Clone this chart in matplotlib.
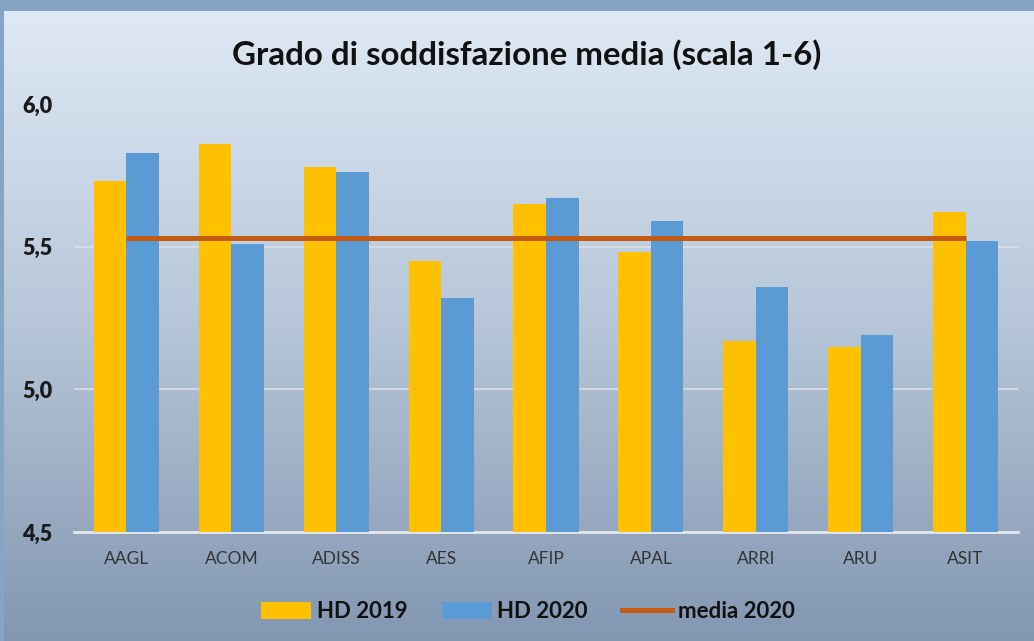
import numpy as np
import matplotlib
matplotlib.use("Agg")
import matplotlib.pyplot as plt
from matplotlib.patches import Patch
from matplotlib.lines import Line2D
from matplotlib.colors import LinearSegmentedColormap

categories = ["AAGL", "ACOM", "ADISS", "AES", "AFIP", "APAL", "ARRI", "ARU", "ASIT"]
hd2019 = [5.73, 5.86, 5.78, 5.45, 5.65, 5.48, 5.17, 5.15, 5.62]
hd2020 = [5.83, 5.51, 5.76, 5.32, 5.67, 5.59, 5.36, 5.19, 5.52]
media2020 = [5.53, 5.53, 5.53, 5.53, 5.53, 5.53, 5.53, 5.53, 5.53]
yticks = [4.5, 5.0, 5.5, 6.0]
ytick_labels = ["4,5", "5,0", "5,5", "6,0"]
title = "Grado di soddisfazione media (scala 1-6)"

FONT = ["Lato", "DejaVu Sans"]
plt.rcParams["font.family"] = FONT

W, H = 1034, 641
fig = plt.figure(figsize=(W / 100, H / 100), dpi=100)
fig.patch.set_facecolor("#84a5c4")

# gradient background panel
bg = fig.add_axes([4 / W, 0, (W - 4) / W, (H - 11) / H], zorder=-10)
cmap = LinearSegmentedColormap.from_list("bg", ["#dfe9f5", "#b6c6d8", "#8397b2"])
grad = np.linspace(0, 1, 256).reshape(-1, 1)
bg.imshow(grad, aspect="auto", cmap=cmap, extent=[0, 1, 0, 1], origin="upper")
bg.set_axis_off()

ax = fig.add_axes([74 / W, (H - 532) / H, (1018 - 74) / W, (532 - 104) / H])
ax.patch.set_alpha(0)

x = np.arange(len(categories))
bw = 0.31
ax.bar(x - bw / 2, hd2019, width=bw, color="#FFC000", zorder=3, label="HD 2019")
ax.bar(x + bw / 2, hd2020, width=bw, color="#5B9BD5", zorder=3, label="HD 2020")
ax.plot(x, media2020, color="#C55A11", lw=3.6, zorder=4, solid_capstyle="butt", label="media 2020")

ax.set_xlim(-0.5, len(categories) - 0.5)
ax.set_ylim(4.5, 6.0)
ax.set_yticks(yticks)
ax.set_yticklabels(ytick_labels, fontsize=15.5, fontweight="heavy", color="#1a1a1a")
ax.set_xticks(x)
ax.set_xticklabels(categories, fontsize=12.5, color="#333333")
ax.tick_params(axis="both", length=0)
ax.tick_params(axis="y", pad=15.5)
ax.tick_params(axis="x", pad=14)
for v in yticks[1:]:
    ax.axhline(v, color="#d9dde3", lw=1.3, zorder=1)
for s in ["top", "right", "left"]:
    ax.spines[s].set_visible(False)
ax.spines["bottom"].set_color("#e4e8ee")
ax.spines["bottom"].set_linewidth(2)

fig.text(527 / W, 1 - 55 / H, title, ha="center", va="center", fontsize=23.8,
         fontweight="bold", color="#111111")

handles = [Patch(facecolor="#FFC000", edgecolor="none"),
           Patch(facecolor="#5B9BD5", edgecolor="none"),
           Line2D([], [], color="#C55A11", lw=3.6)]
leg = fig.legend(handles, ["HD 2019", "HD 2020", "media 2020"], loc="center",
                 bbox_to_anchor=(528 / W, 1 - 612 / H), ncol=3, frameon=False,
                 prop={"family": FONT, "weight": "bold", "size": 16},
                 handlelength=2.25, handleheight=0.8, handletextpad=0.25,
                 columnspacing=1.55)
for t in leg.get_texts():
    t.set_color("#111111")

fig.savefig("out.png", dpi=100)
